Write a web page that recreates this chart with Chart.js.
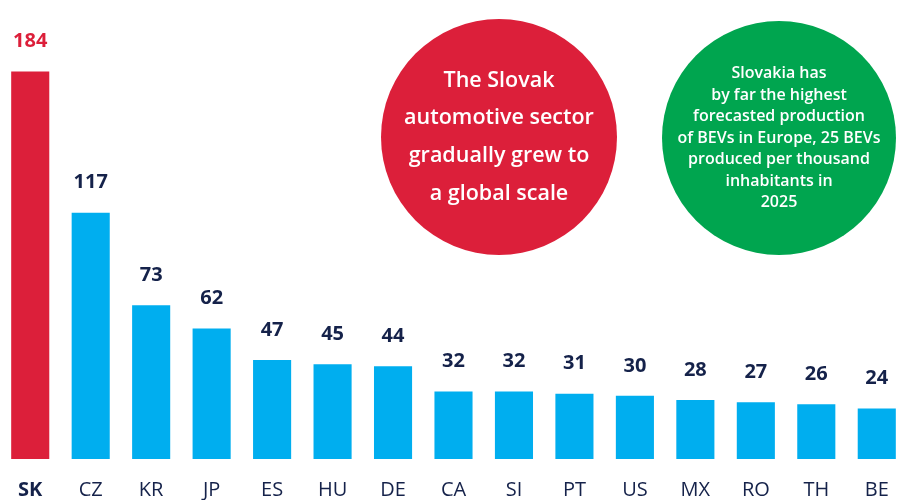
<!DOCTYPE html>
<html>
<head>
<meta charset="utf-8">
<script src="https://cdn.jsdelivr.net/npm/chart.js@4"></script>
<style>
    body { margin: 0; overflow: hidden; background: #fff; }
    #wrap { position: relative; width: 907px; height: 500px; }
</style>
</head>
<body>
<div id="wrap"><canvas id="bevChart"></canvas></div>
<script>
const countries = ['SK', 'CZ', 'KR', 'JP', 'ES', 'HU', 'DE', 'CA', 'SI', 'PT', 'US', 'MX', 'RO', 'TH', 'BE'];
const carsPerThousand = [184, 117, 73, 62, 47, 45, 44, 32, 32, 31, 30, 28, 27, 26, 24];
const redNote = ['The Slovak', 'automotive sector', 'gradually grew to', 'a global scale'];
const greenNote = ['Slovakia has', 'by far the highest', 'forecasted production', 'of BEVs in Europe, 25 BEVs',
    'produced per thousand', 'inhabitants in', '2025'];

const RED = '#dc1f3a';
const BLUE = '#00aeef';
const GREEN = '#00a54f';
const NAVY = '#15224a';
const FONT = '"Open Sans", "Noto Sans", sans-serif';

function drawBubble(ctx, cx, cy, r, color, lines, size, lineGap) {
    ctx.save();
    ctx.beginPath();
    ctx.arc(cx, cy, r, 0, Math.PI * 2);
    ctx.fillStyle = color;
    ctx.fill();
    ctx.fillStyle = '#fff';
    ctx.font = `600 ${size}px ${FONT}`;
    ctx.textAlign = 'center';
    ctx.textBaseline = 'middle';
    const startY = cy - (lines.length - 1) * lineGap / 2;
    lines.forEach((t, i) => ctx.fillText(t, cx, startY + i * lineGap));
    ctx.restore();
}

const bubbles = {
    id: 'bubbles',
    afterDraw(chart) {
        const ctx = chart.ctx;
        drawBubble(ctx, 499, 137, 118, RED, redNote, 21.5, 37.7);
        drawBubble(ctx, 779, 138, 117, GREEN, greenNote, 16, 21.5);
    }
};

const valueLabels = {
    id: 'valueLabels',
    afterDatasetsDraw(chart) {
        const ctx = chart.ctx;
        const meta = chart.getDatasetMeta(0);
        ctx.save();
        ctx.font = `bold 20px ${FONT}`;
        ctx.textAlign = 'center';
        ctx.textBaseline = 'middle';
        meta.data.forEach((bar, i) => {
            ctx.fillStyle = i === 0 ? RED : NAVY;
            ctx.fillText(carsPerThousand[i], bar.x, bar.y - 30);
        });
        ctx.restore();
    }
};

new Chart(document.getElementById('bevChart'), {
    type: 'bar',
    data: {
        labels: countries,
        datasets: [{
            data: carsPerThousand,
            backgroundColor: countries.map((c, i) => i === 0 ? RED : BLUE),
            barPercentage: 0.63,
            categoryPercentage: 1
        }]
    },
    options: {
        responsive: true,
        maintainAspectRatio: false,
        animation: false,
        layout: { padding: 0 },
        plugins: { legend: { display: false }, tooltip: { enabled: false } },
        scales: {
            x: {
                grid: { display: false },
                border: { display: false },
                afterFit: s => { s.height = 41; },
                ticks: {
                    color: NAVY,
                    padding: 11,
                    font: ctx => ({ family: FONT, size: 20, weight: ctx.index === 0 ? 'bold' : 'normal' })
                }
            },
            y: {
                display: false,
                min: 0,
                max: 218
            }
        }
    },
    plugins: [valueLabels, bubbles]
});
</script>
</body>
</html>
